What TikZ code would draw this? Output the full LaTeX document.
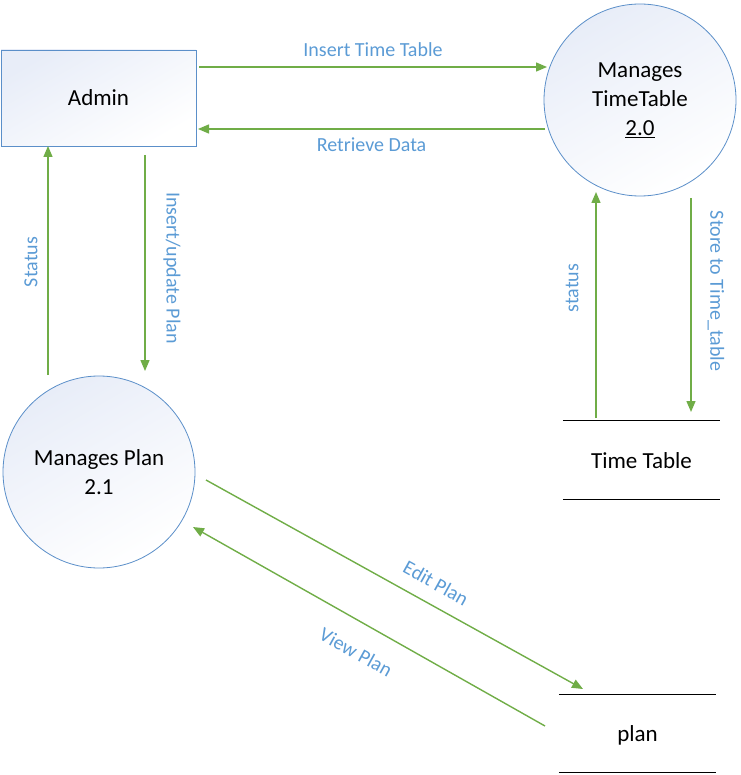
\documentclass[tikz,border=0pt]{standalone}
\usepackage{fontspec}
\setmainfont{Carlito}
\usetikzlibrary{arrows.meta}
\definecolor{flowgreen}{HTML}{70AD47}
\definecolor{lblblue}{HTML}{5B9BD5}
\definecolor{edgeblue}{HTML}{5B8FC9}
\definecolor{fillblue}{HTML}{E8EDF8}
\tikzset{
  shapefill/.style={draw=edgeblue, line width=0.8pt, top color=fillblue, bottom color=white, shading angle=30},
  proc/.style={shapefill, circle, minimum size=192pt, inner sep=0pt, align=center, font=\fontsize{23}{29}\selectfont},
  entity/.style={shapefill, rectangle, minimum width=195pt, minimum height=96pt, inner sep=0pt, font=\fontsize{23}{29}\selectfont},
  store/.style={rectangle, minimum width=157pt, minimum height=78pt, inner sep=0pt, text height=16pt, text depth=0pt, font=\fontsize{23}{29}\selectfont},
  flow/.style={draw=flowgreen, line width=1.4pt, -{Triangle[length=11pt,width=9pt]}},
  lbl/.style={text=lblblue, font=\fontsize{20}{24}\selectfont, inner sep=0pt}
}
\begin{document}
\begin{tikzpicture}[x=1pt,y=-1pt]
\useasboundingbox (0,0) rectangle (740,775);
% nodes
\node[entity] (admin) at (98.5,98) {Admin};
\node[proc] (mtt) at (640,100) {Manages\\TimeTable\\\underline{2.0}};
\node[proc] (mplan) at (99,472) {Manages Plan\\2.1};
\node[store] (tt) at (641.5,460) {Time Table};
\node[store] (pl) at (637.5,733.5) {plan};
% store lines
\draw[line width=0.9pt] (tt.north west) -- (tt.north east);
\draw[line width=0.9pt] (tt.south west) -- (tt.south east);
\draw[line width=0.9pt] (pl.north west) -- (pl.north east);
\draw[line width=0.9pt] (pl.south west) -- (pl.south east);
% connector ends
\coordinate (a1) at (199,67);  \coordinate (t1) at (547,67);
\coordinate (t2) at (545,129); \coordinate (a2) at (198,129);
\coordinate (p1) at (48,375);  \coordinate (a3) at (48,146);
\coordinate (a4) at (145,155); \coordinate (p2) at (145,371);
\coordinate (s1) at (596,418); \coordinate (t3) at (596,192);
\coordinate (t4) at (691,198); \coordinate (s2) at (691,412);
\coordinate (p3) at (206,480); \coordinate (q1) at (583,689);
\coordinate (q2) at (545,726); \coordinate (p4) at (193,527);
% flows
\draw[flow] (a1) -- (t1) node[lbl, midway, above=10pt] {Insert Time Table};
\draw[flow] (t2) -- (a2) node[lbl, midway, below=8pt] {Retrieve Data};
\draw[flow] (p1) -- (a3);
\draw[flow] (a4) -- (p2);
\draw[flow] (s1) -- (t3);
\draw[flow] (t4) -- (s2);
\draw[flow] (p3) -- (q1);
\draw[flow] (q2) -- (p4);
% rotated labels
\node[lbl, rotate=90] (l1) at (31,262) {Status};
\node[lbl, rotate=-90] (l2) at (172,268) {Insert/update Plan};
\node[lbl, rotate=90] (l3) at (572,288) {status};
\node[lbl, rotate=-90] (l4) at (716,291) {Store to Time\_table};
\node[lbl, rotate=-29] (l5) at (436,583) {Edit Plan};
\node[lbl, rotate=-29] (l6) at (356,652) {View Plan};
\end{tikzpicture}
\end{document}
